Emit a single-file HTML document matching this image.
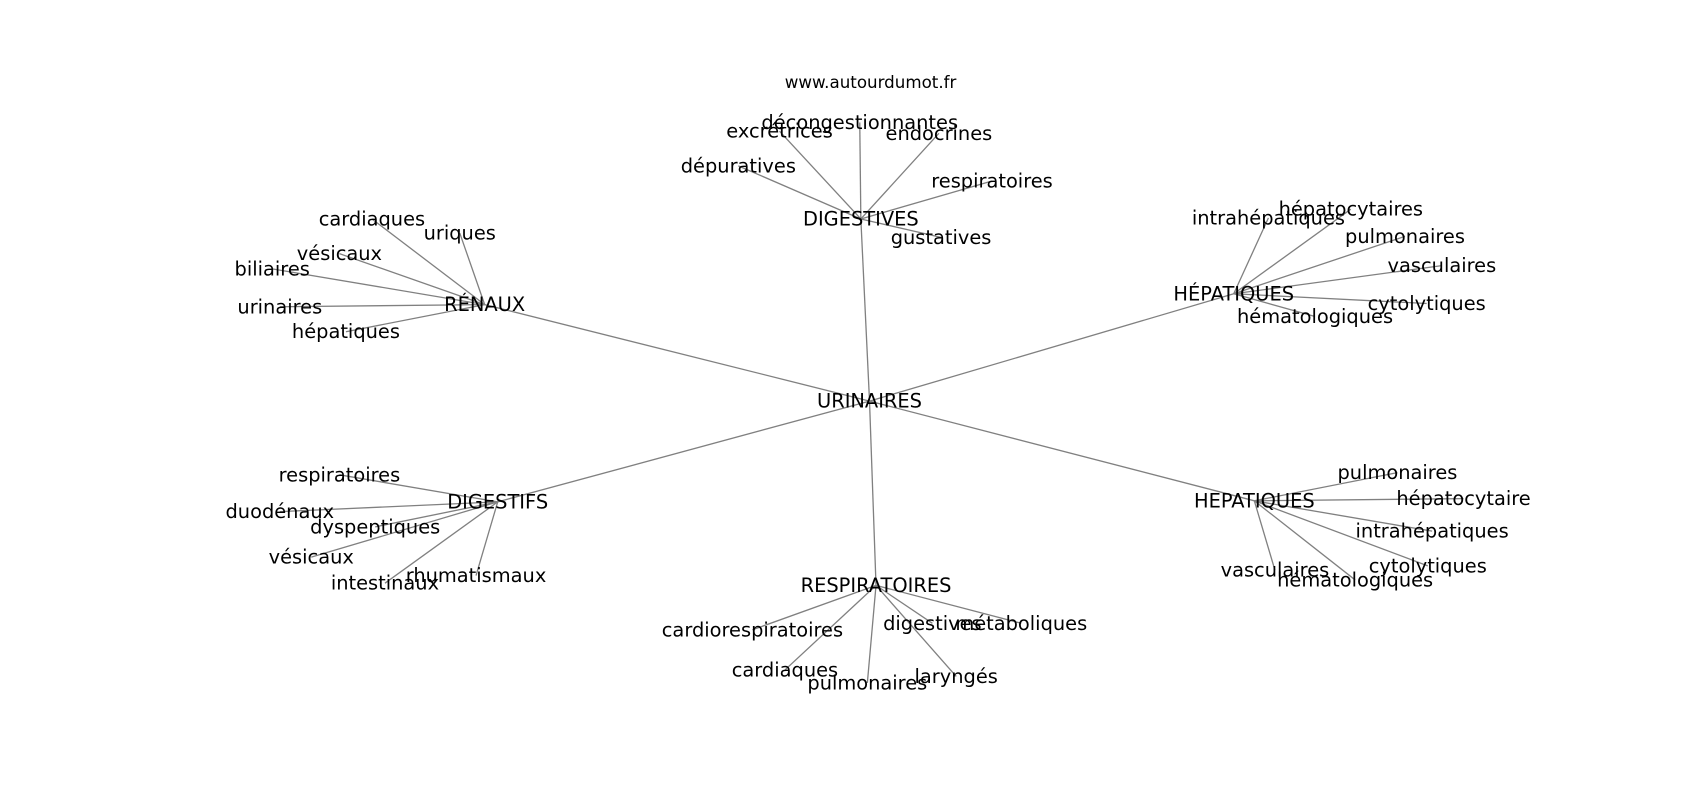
<!DOCTYPE html>
<html><head><meta charset="utf-8"><style>html,body{margin:0;padding:0;background:#fff}svg{display:block}</style></head>
<body>
<svg width="1700" height="800" viewBox="0 0 1568 738" xmlns="http://www.w3.org/2000/svg">
<rect width="1568" height="738" fill="#fff"/>
<g stroke="#808080" stroke-width="1.2" fill="none">
<line x1="802" y1="370" x2="794" y2="202"/>
<line x1="802" y1="370" x2="447" y2="281"/>
<line x1="802" y1="370" x2="1138" y2="271"/>
<line x1="802" y1="370" x2="1157" y2="462"/>
<line x1="802" y1="370" x2="808" y2="540"/>
<line x1="802" y1="370" x2="459" y2="463"/>
<line x1="794" y1="202" x2="793" y2="113"/>
<line x1="794" y1="202" x2="719" y2="121"/>
<line x1="794" y1="202" x2="866" y2="123"/>
<line x1="794" y1="202" x2="681" y2="153"/>
<line x1="794" y1="202" x2="915" y2="167"/>
<line x1="794" y1="202" x2="868" y2="219"/>
<line x1="447" y1="281" x2="343" y2="202"/>
<line x1="447" y1="281" x2="424" y2="215"/>
<line x1="447" y1="281" x2="313" y2="234"/>
<line x1="447" y1="281" x2="251" y2="248"/>
<line x1="447" y1="281" x2="258" y2="283"/>
<line x1="447" y1="281" x2="319" y2="306"/>
<line x1="1138" y1="271" x2="1170" y2="201"/>
<line x1="1138" y1="271" x2="1246" y2="193"/>
<line x1="1138" y1="271" x2="1296" y2="218"/>
<line x1="1138" y1="271" x2="1330" y2="245"/>
<line x1="1138" y1="271" x2="1316" y2="280"/>
<line x1="1138" y1="271" x2="1213" y2="292"/>
<line x1="1157" y1="462" x2="1289" y2="436"/>
<line x1="1157" y1="462" x2="1350" y2="460"/>
<line x1="1157" y1="462" x2="1321" y2="490"/>
<line x1="1157" y1="462" x2="1317" y2="522"/>
<line x1="1157" y1="462" x2="1176" y2="526"/>
<line x1="1157" y1="462" x2="1250" y2="535"/>
<line x1="808" y1="540" x2="694" y2="581"/>
<line x1="808" y1="540" x2="724" y2="618"/>
<line x1="808" y1="540" x2="800" y2="630"/>
<line x1="808" y1="540" x2="860" y2="575"/>
<line x1="808" y1="540" x2="942" y2="575"/>
<line x1="808" y1="540" x2="882" y2="624"/>
<line x1="459" y1="463" x2="313" y2="438"/>
<line x1="459" y1="463" x2="258" y2="472"/>
<line x1="459" y1="463" x2="346" y2="486"/>
<line x1="459" y1="463" x2="287" y2="514"/>
<line x1="459" y1="463" x2="355" y2="538"/>
<line x1="459" y1="463" x2="439" y2="531"/>
</g>
<g font-family="DejaVu Sans, sans-serif" font-size="17.9" fill="#000" text-anchor="middle" dominant-baseline="central">
<text x="803" y="76" font-size="15.4">www.autourdumot.fr</text>
<text x="802" y="370">URINAIRES</text>
<text x="794" y="202">DIGESTIVES</text>
<text x="793" y="113">décongestionnantes</text>
<text x="719" y="121">excrétrices</text>
<text x="866" y="123">endocrines</text>
<text x="681" y="153">dépuratives</text>
<text x="915" y="167">respiratoires</text>
<text x="868" y="219">gustatives</text>
<text x="447" y="281">RÉNAUX</text>
<text x="343" y="202">cardiaques</text>
<text x="424" y="215">uriques</text>
<text x="313" y="234">vésicaux</text>
<text x="251" y="248">biliaires</text>
<text x="258" y="283">urinaires</text>
<text x="319" y="306">hépatiques</text>
<text x="1138" y="271">HÉPATIQUES</text>
<text x="1170" y="201">intrahépatiques</text>
<text x="1246" y="193">hépatocytaires</text>
<text x="1296" y="218">pulmonaires</text>
<text x="1330" y="245">vasculaires</text>
<text x="1316" y="280">cytolytiques</text>
<text x="1213" y="292">hématologiques</text>
<text x="1157" y="462">HEPATIQUES</text>
<text x="1289" y="436">pulmonaires</text>
<text x="1350" y="460">hépatocytaire</text>
<text x="1321" y="490">intrahépatiques</text>
<text x="1317" y="522">cytolytiques</text>
<text x="1176" y="526">vasculaires</text>
<text x="1250" y="535">hématologiques</text>
<text x="808" y="540">RESPIRATOIRES</text>
<text x="694" y="581">cardiorespiratoires</text>
<text x="724" y="618">cardiaques</text>
<text x="800" y="630">pulmonaires</text>
<text x="860" y="575">digestives</text>
<text x="942" y="575">métaboliques</text>
<text x="882" y="624">laryngés</text>
<text x="459" y="463">DIGESTIFS</text>
<text x="313" y="438">respiratoires</text>
<text x="258" y="472">duodénaux</text>
<text x="346" y="486">dyspeptiques</text>
<text x="287" y="514">vésicaux</text>
<text x="355" y="538">intestinaux</text>
<text x="439" y="531">rhumatismaux</text>
</g>
</svg>
</body></html>
